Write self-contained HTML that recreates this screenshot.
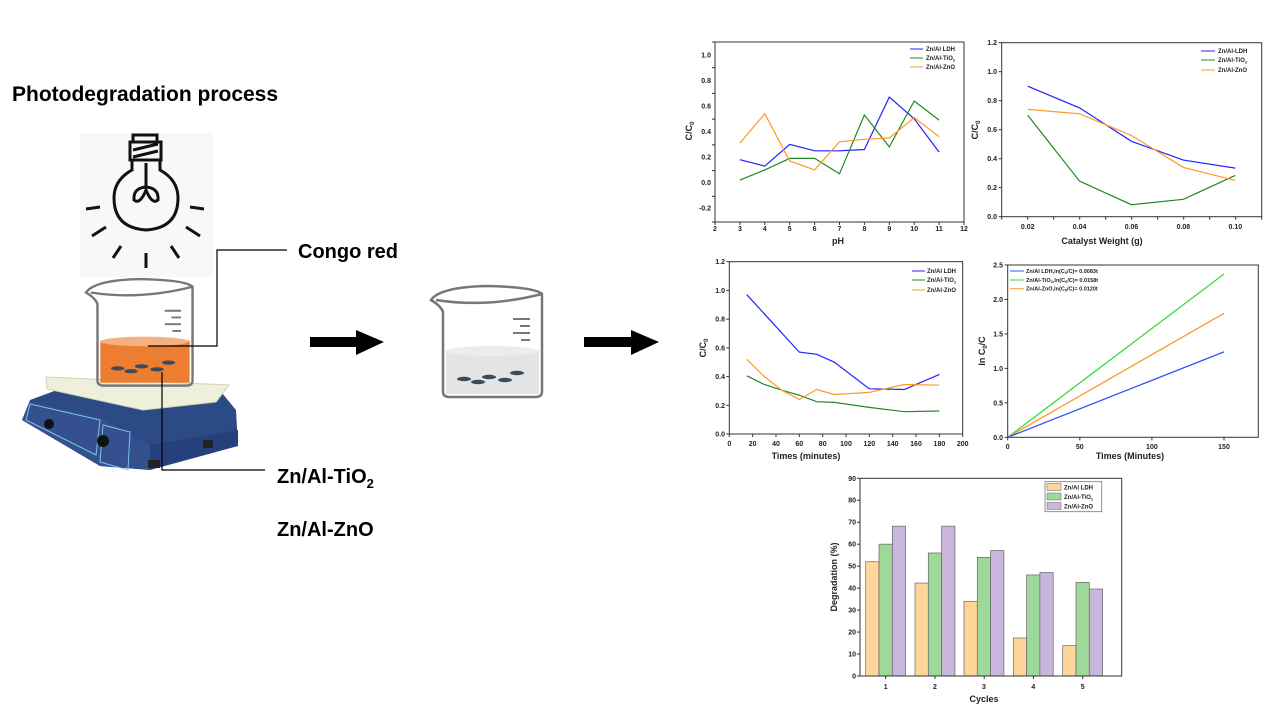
<!DOCTYPE html>
<html><head><meta charset="utf-8"><style>
html,body{margin:0;padding:0;background:#fff;width:1280px;height:720px;overflow:hidden}
svg{display:block}
text{font-family:"Liberation Sans",Arial,sans-serif;font-weight:bold;fill:#222}
.t{font-size:7px}
.ax{fill:none;stroke:#333;stroke-width:1}
</style></head><body>
<svg id="s" width="1280" height="720" viewBox="0 0 1280 720" xmlns="http://www.w3.org/2000/svg">
<text x="12" y="101" style="font-size:21px;fill:#000">Photodegradation process</text>
<rect x="80" y="133" width="133" height="144" fill="#f8f8f8"/>
<g fill="none" stroke="#111" stroke-width="3" stroke-linecap="butt">
<rect x="133" y="135" width="24" height="7"/>
<rect x="130" y="142" width="31" height="18"/>
<path d="M133,150 L158,144 M133,157 L158,151"/>
<path d="M132,160 L132,170 Q114,180 114,198 Q114,228 146,230 Q178,228 178,198 Q178,180 160,170 L160,160"/>
<path d="M146,163 L146,187 M146,187 Q133,188 134,200 Q140,205 146,190 Q152,205 158,200 Q159,188 146,187"/>
<path d="M86,209 L100,207 M190,207 L204,209 M92,236 L106,227 M186,227 L200,236 M113,258 L121,246 M171,246 L179,258 M146,253 L146,268"/>
</g>
<polygon points="57,390 222,393 236,410 238,446 150,458 150,470 100,466 22,420 30,400" fill="#2c4a86"/>
<polygon points="22,420 30,402 100,418 150,445 150,470 100,466" fill="#34508f"/>
<polygon points="150,445 238,430 238,446 150,470" fill="#25407a"/>
<path d="M30,404 L100,420 L96,455 L26,420 Z" fill="none" stroke="#7cc6e6" stroke-width="1"/>
<path d="M103,425 L130,432 L128,470 L100,462 Z" fill="none" stroke="#7cc6e6" stroke-width="1"/>
<circle cx="49" cy="424" r="5" fill="#111"/><circle cx="103" cy="441" r="6" fill="#111"/>
<rect x="148" y="460" width="12" height="8" fill="#222"/><rect x="203" y="440" width="10" height="8" fill="#222"/>
<polygon points="46,377 229,385 216,402 143,410 47,389" fill="#eef0dc" stroke="#cfd3b8" stroke-width="1"/>
<g id="bk2">
<rect x="446" y="350" width="93" height="44" fill="#e4e4e4"/>
<ellipse cx="492" cy="351" rx="46" ry="5" fill="#ececec"/>
<g fill="#3b4a5e"><ellipse cx="464" cy="379" rx="7" ry="2.2"/><ellipse cx="489" cy="377" rx="7" ry="2.2"/><ellipse cx="478" cy="382" rx="7" ry="2.2"/><ellipse cx="505" cy="380" rx="7" ry="2.2"/><ellipse cx="517" cy="373" rx="7" ry="2.2"/></g>
<path d="M431,300 Q440,287 487,286 Q535,287 542,294 L542,392 Q542,397 535,397 L450,397 Q443,397 443,392 L443,312 Q441,306 431,300 Z M436,300 Q487,308 542,294" fill="none" stroke="#777" stroke-width="2.5"/>
<path d="M513,319 L530,319 M520,326 L530,326 M513,333 L530,333 M521,340 L530,340" stroke="#777" stroke-width="2"/>
</g>
<g transform="translate(-327.8,4.5) scale(0.96)">
<rect x="446" y="350" width="93" height="44" fill="#ed7d31"/>
<ellipse cx="492" cy="351" rx="46" ry="5" fill="#f4b183"/>
<g fill="#3b4a5e"><ellipse cx="464" cy="379" rx="7" ry="2.2"/><ellipse cx="489" cy="377" rx="7" ry="2.2"/><ellipse cx="478" cy="382" rx="7" ry="2.2"/><ellipse cx="505" cy="380" rx="7" ry="2.2"/><ellipse cx="517" cy="373" rx="7" ry="2.2"/></g>
<path d="M431,300 Q440,287 487,286 Q535,287 542,294 L542,392 Q542,397 535,397 L450,397 Q443,397 443,392 L443,312 Q441,306 431,300 Z M436,300 Q487,308 542,294" fill="none" stroke="#777" stroke-width="2.5"/>
<path d="M513,319 L530,319 M520,326 L530,326 M513,333 L530,333 M521,340 L530,340" stroke="#777" stroke-width="2"/>
</g>
<path d="M148,346 L217,346 L217,250 L287,250 M162,372 L162,470 L265,470" fill="none" stroke="#000" stroke-width="1.2"/>
<text x="298" y="258" style="font-size:20px;fill:#000">Congo red</text>
<text x="277" y="483" style="font-size:20px;fill:#000">Zn/Al-TiO<tspan dy="5" style="font-size:13px">2</tspan></text>
<text x="277" y="536" style="font-size:20px;fill:#000">Zn/Al-ZnO</text>
<path d="M310,337 L356,337 L356,330 L384,342 L356,355 L356,347 L310,347 Z" fill="#000"/>
<path d="M584,337 L631,337 L631,330 L659,342 L631,355 L631,347 L584,347 Z" fill="#000"/>

<rect x="715" y="42" width="249" height="180" class="ax"/>
<g class="t" text-anchor="end">
<text x="711" y="210.7">-0.2</text><text x="711" y="185.2">0.0</text><text x="711" y="159.7">0.2</text><text x="711" y="134.1">0.4</text><text x="711" y="108.6">0.6</text><text x="711" y="83">0.8</text><text x="711" y="57.5">1.0</text>
</g>
<g class="t" text-anchor="middle">
<text x="715" y="231">2</text><text x="739.9" y="231">3</text><text x="764.8" y="231">4</text><text x="789.7" y="231">5</text><text x="814.6" y="231">6</text><text x="839.5" y="231">7</text><text x="864.4" y="231">8</text><text x="889.3" y="231">9</text><text x="914.2" y="231">10</text><text x="939.1" y="231">11</text><text x="964" y="231">12</text>
</g>
<text x="838" y="244" text-anchor="middle" style="font-size:9px">pH</text>
<text transform="translate(692,131) rotate(-90)" text-anchor="middle" style="font-size:9px">C/C<tspan dy="2" style="font-size:6px">0</tspan></text>
<g style="font-size:6px"><text x="926" y="51">Zn/Al LDH</text><text x="926" y="60">Zn/Al-TiO<tspan dy="1.5" style="font-size:4px">2</tspan></text><text x="926" y="69">Zn/Al-ZnO</text></g>
<path d="M910,49 L923,49" stroke="#2222ff"/><path d="M910,58 L923,58" stroke="#1f8a1f"/><path d="M910,67 L923,67" stroke="#ff9922"/>

<rect x="1001.7" y="42.7" width="260" height="174" class="ax"/>
<g class="t" text-anchor="end">
<text x="997" y="219.2">0.0</text><text x="997" y="190.2">0.2</text><text x="997" y="161.2">0.4</text><text x="997" y="132.2">0.6</text><text x="997" y="103.2">0.8</text><text x="997" y="74.2">1.0</text><text x="997" y="45.2">1.2</text>
</g>
<g class="t" text-anchor="middle">
<text x="1027.7" y="229">0.02</text><text x="1079.6" y="229">0.04</text><text x="1131.5" y="229">0.06</text><text x="1183.4" y="229">0.08</text><text x="1235.3" y="229">0.10</text>
</g>
<text x="1102" y="244" text-anchor="middle" style="font-size:9px">Catalyst Weight (g)</text>
<text transform="translate(978,130) rotate(-90)" text-anchor="middle" style="font-size:9px">C/C<tspan dy="2" style="font-size:6px">0</tspan></text>
<g style="font-size:6px"><text x="1218" y="53">Zn/Al-LDH</text><text x="1218" y="62">Zn/Al-TiO<tspan dy="1.5" style="font-size:4px">2</tspan></text><text x="1218" y="72">Zn/Al-ZnO</text></g>
<path d="M1201,51 L1215,51" stroke="#2222ff"/><path d="M1201,60 L1215,60" stroke="#1f8a1f"/><path d="M1201,70 L1215,70" stroke="#ff9922"/>

<rect x="729.3" y="261.7" width="233.4" height="172.3" class="ax"/>
<g class="t" text-anchor="end">
<text x="725" y="436.5">0.0</text><text x="725" y="407.8">0.2</text><text x="725" y="379.1">0.4</text><text x="725" y="350.3">0.6</text><text x="725" y="321.6">0.8</text><text x="725" y="292.9">1.0</text><text x="725" y="264.2">1.2</text>
</g>
<g class="t" text-anchor="middle">
<text x="729.3" y="446">0</text><text x="752.6" y="446">20</text><text x="776" y="446">40</text><text x="799.3" y="446">60</text><text x="822.7" y="446">80</text><text x="846" y="446">100</text><text x="869.3" y="446">120</text><text x="892.7" y="446">140</text><text x="916" y="446">160</text><text x="939.4" y="446">180</text><text x="962.7" y="446">200</text>
</g>
<text x="806" y="459" text-anchor="middle" style="font-size:9px">Times (minutes)</text>
<text transform="translate(706,348) rotate(-90)" text-anchor="middle" style="font-size:9px">C/C<tspan dy="2" style="font-size:6px">0</tspan></text>
<g style="font-size:6px"><text x="927" y="273">Zn/Al LDH</text><text x="927" y="282">Zn/Al-TiO<tspan dy="1.5" style="font-size:4px">2</tspan></text><text x="927" y="292">Zn/Al-ZnO</text></g>
<path d="M912,271 L925,271" stroke="#2222ff"/><path d="M912,280 L925,280" stroke="#1f8a1f"/><path d="M912,290 L925,290" stroke="#ff9922"/>

<rect x="1007.7" y="265" width="250.6" height="172.3" class="ax"/>
<g class="t" text-anchor="end">
<text x="1003" y="439.8">0.0</text><text x="1003" y="405.4">0.5</text><text x="1003" y="370.9">1.0</text><text x="1003" y="336.5">1.5</text><text x="1003" y="302">2.0</text><text x="1003" y="267.5">2.5</text>
</g>
<g class="t" text-anchor="middle">
<text x="1007.7" y="449">0</text><text x="1079.8" y="449">50</text><text x="1151.9" y="449">100</text><text x="1224" y="449">150</text>
</g>
<text x="1130" y="459" text-anchor="middle" style="font-size:9px">Times (Minutes)</text>
<text transform="translate(985,351) rotate(-90)" text-anchor="middle" style="font-size:9px">ln C<tspan dy="2" style="font-size:6px">0</tspan><tspan dy="-2">/C</tspan></text>
<g style="font-size:5.5px"><text x="1026" y="273">Zn/Al LDH,ln(C<tspan dy="1" style="font-size:4px">0</tspan><tspan dy="-1">/C)= 0.0083t</tspan></text><text x="1026" y="282">Zn/Al-TiO<tspan dy="1" style="font-size:4px">2</tspan><tspan dy="-1">,ln(C</tspan><tspan dy="1" style="font-size:4px">0</tspan><tspan dy="-1">/C)= 0.0158t</tspan></text><text x="1026" y="290.5">Zn/Al-ZnO,ln(C<tspan dy="1" style="font-size:4px">0</tspan><tspan dy="-1">/C)= 0.0120t</tspan></text></g>
<path d="M1010,271 L1024,271" stroke="#3355ee"/><path d="M1010,280 L1024,280" stroke="#33dd33"/><path d="M1010,288.7 L1024,288.7" stroke="#ff9922"/>
<path d="M1007.7,437.3 L1224,274" stroke="#33dd33" stroke-width="1.3"/>
<path d="M1007.7,437.3 L1224,313.3" stroke="#ff9922" stroke-width="1.3"/>
<path d="M1007.7,437.3 L1224,351.9" stroke="#3355ee" stroke-width="1.3"/>

<g id="bars"></g>
<rect x="860" y="478.3" width="261.7" height="197.7" class="ax"/>
<g class="t" text-anchor="end">
<text x="856" y="678.5">0</text><text x="856" y="656.5">10</text><text x="856" y="634.6">20</text><text x="856" y="612.6">30</text><text x="856" y="590.6">40</text><text x="856" y="568.7">50</text><text x="856" y="546.7">60</text><text x="856" y="524.7">70</text><text x="856" y="502.7">80</text><text x="856" y="480.8">90</text>
</g>
<g class="t" text-anchor="middle">
<text x="885.7" y="689">1</text><text x="935" y="689">2</text><text x="984" y="689">3</text><text x="1033.3" y="689">4</text><text x="1082.7" y="689">5</text>
</g>
<text x="984" y="702" text-anchor="middle" style="font-size:9px">Cycles</text>
<text transform="translate(837,577) rotate(-90)" text-anchor="middle" style="font-size:9px">Degradation (%)</text>
<rect x="1045" y="481.7" width="56.7" height="30" fill="#fff" stroke="#777" stroke-width="0.8"/>
<rect x="1047" y="483.5" width="14" height="7" fill="#ffd699" stroke="#666" stroke-width="0.5"/>
<rect x="1047" y="493" width="14" height="7" fill="#9ed99a" stroke="#666" stroke-width="0.5"/>
<rect x="1047" y="502.5" width="14" height="7" fill="#c9b6dd" stroke="#666" stroke-width="0.5"/>
<g style="font-size:6px"><text x="1064" y="489.5">Zn/Al LDH</text><text x="1064" y="499">Zn/Al-TiO<tspan dy="1.5" style="font-size:4px">2</tspan></text><text x="1064" y="508.5">Zn/Al-ZnO</text></g>
<g id="lines"></g>
<g id="ticks" stroke="#333" stroke-width="1"></g>
</svg>
<script>
(function(){
var NS="http://www.w3.org/2000/svg",L=document.getElementById("lines"),B=document.getElementById("bars"),T=document.getElementById("ticks");
function pl(pts,c){var p=document.createElementNS(NS,"polyline");p.setAttribute("points",pts.map(function(a){return a[0].toFixed(1)+","+a[1].toFixed(1)}).join(" "));p.setAttribute("fill","none");p.setAttribute("stroke",c);p.setAttribute("stroke-width","1.2");L.appendChild(p);}
function ser(xs,ys,fx,fy,c){pl(xs.map(function(x,i){return [fx(x),fy(ys[i])]}),c);}
function ln(x1,y1,x2,y2){var l=document.createElementNS(NS,"line");l.setAttribute("x1",x1);l.setAttribute("y1",y1);l.setAttribute("x2",x2);l.setAttribute("y2",y2);T.appendChild(l);}
function xt(a,b,n,y){for(var i=0;i<=n;i++){var x=a+(b-a)*i/n;ln(x,y,x,y+3);}}
function yt(a,b,n,x){for(var i=0;i<=n;i++){var y=a+(b-a)*i/n;ln(x,y,x-3,y);}}
xt(715,964,10,222);yt(42,222,7,715);
xt(1001.7,1261.7,10,216.7);yt(42.7,216.7,6,1001.7);
xt(729.3,962.7,10,434);yt(261.7,434,6,729.3);
xt(1007.7,1224,3,437.3);yt(265,437.3,5,1007.7);
xt(885.7,1082.7,4,676);yt(478.3,676,9,860);
var B1="#2222ff",G="#1f8a1f",O="#ff9922";
var ph=[3,4,5,6,7,8,9,10,11],fx1=function(v){return 715+(v-2)*24.9},fy1=function(v){return 182.7-v*127.7};
ser(ph,[.18,.13,.30,.25,.25,.26,.67,.50,.24],fx1,fy1,B1);
ser(ph,[.02,.10,.19,.19,.07,.53,.28,.64,.49],fx1,fy1,G);
ser(ph,[.31,.54,.17,.10,.32,.34,.35,.51,.36],fx1,fy1,O);
var w=[.02,.04,.06,.08,.10],fx2=function(v){return 1027.7+(v-.02)*2595},fy2=function(v){return 216.7-v*145};
ser(w,[.9,.75,.52,.39,.335],fx2,fy2,B1);
ser(w,[.70,.245,.083,.12,.285],fx2,fy2,G);
ser(w,[.74,.71,.56,.34,.25],fx2,fy2,O);
var fx3=function(v){return 729.3+v*1.167},fy3=function(v){return 434-v*143.6};
ser([15,60,75,90,120,150,180],[.97,.57,.555,.50,.315,.31,.415],fx3,fy3,B1);
ser([15,30,45,60,75,90,120,150,180],[.405,.345,.305,.27,.225,.22,.185,.155,.16],fx3,fy3,G);
ser([15,30,45,60,75,90,120,150,180],[.52,.40,.305,.24,.31,.275,.29,.345,.34],fx3,fy3,O);
var cats=[885.7,935,984,1033.3,1082.7],vals=[[52,42.3,34,17.3,13.8],[60,56,54,46,42.6],[68.2,68.2,57.1,47.1,39.6]],cols=["#ffd699","#9ed99a","#c9b6dd"];
for(var s=0;s<3;s++)for(var i=0;i<5;i++){var r=document.createElementNS(NS,"rect"),h=vals[s][i]*2.197;r.setAttribute("x",cats[i]-20+s*13.3);r.setAttribute("y",676-h);r.setAttribute("width",13.3);r.setAttribute("height",h);r.setAttribute("fill",cols[s]);r.setAttribute("stroke","#666");r.setAttribute("stroke-width","0.7");B.appendChild(r);}
})();
</script>
</body></html>
